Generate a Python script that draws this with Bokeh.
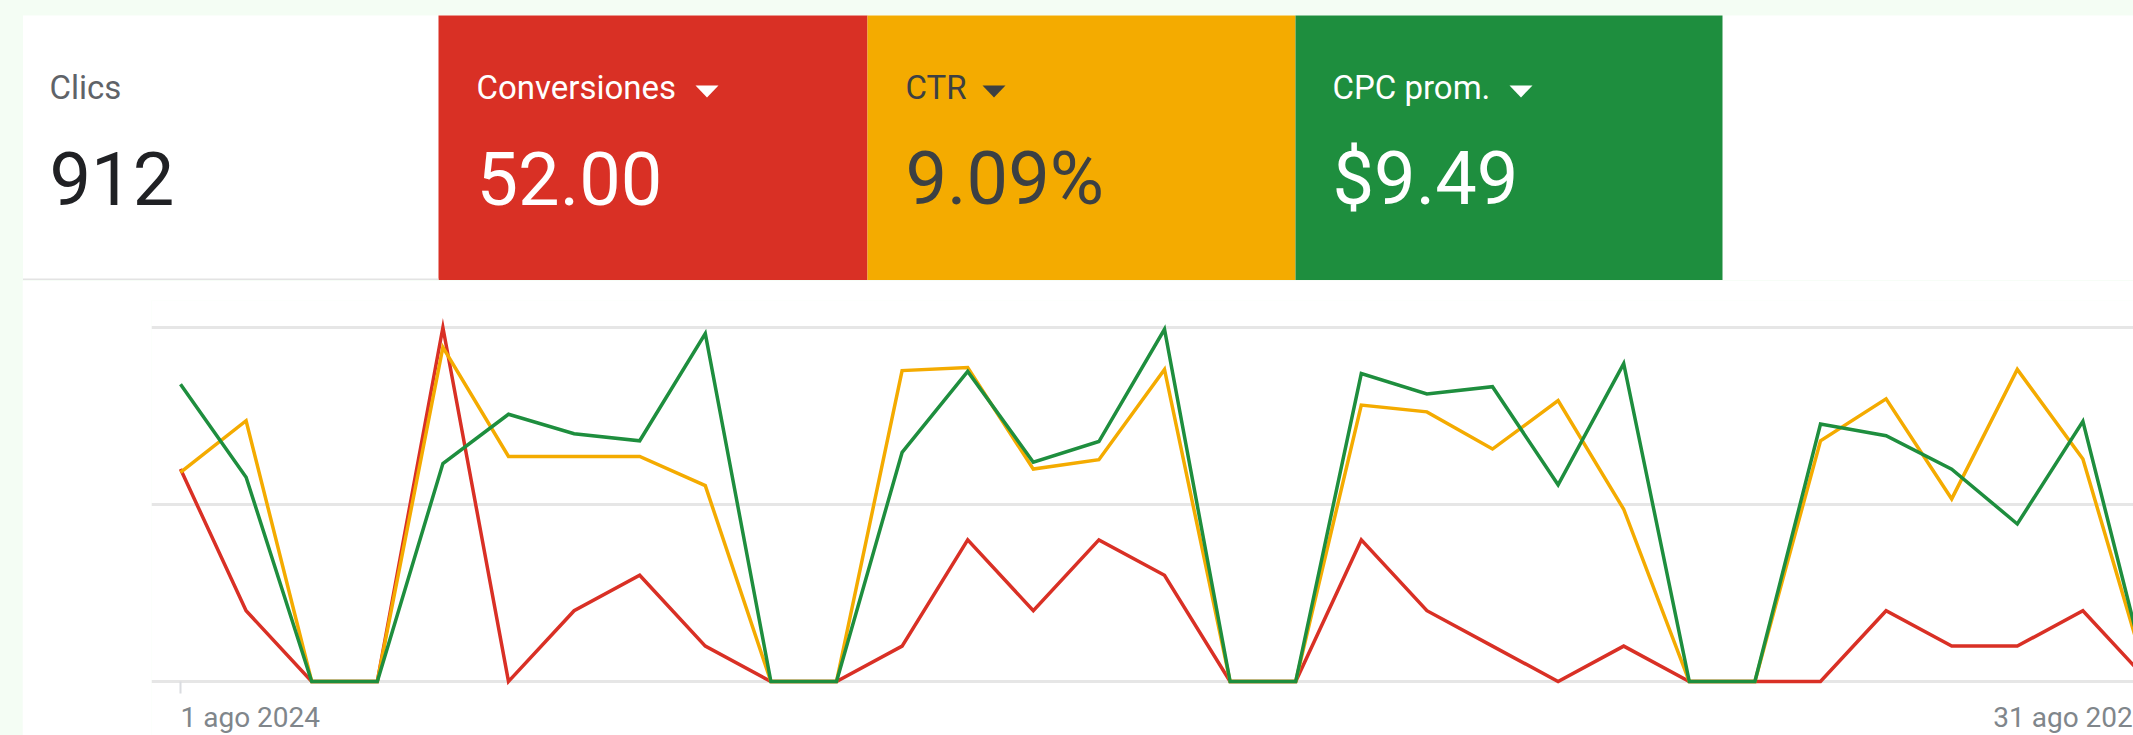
from bokeh.plotting import figure
from bokeh.models import Range1d, FixedTicker, Spacer, Grid, LinearAxis
from bokeh.layouts import column, row
from bokeh.core.properties import value
from bokeh.embed import file_html
from bokeh.resources import INLINE

# ---------------- data ----------------
dias = list(range(1, 32))  # 1..31 ago 2024
conversiones = [6, 2, 0, 0, 10, 0, 2, 3, 1, 0, 0, 1, 4, 2, 4, 3, 0, 0, 4, 2,
                1, 0, 1, 0, 0, 0, 2, 1, 1, 2, 0]
ctr = [7.09, 8.84, 0, 0, 11.33, 7.63, 7.63, 7.63, 6.64, 0, 0, 10.54, 10.64, 7.20,
       7.52, 10.58, 0, 0, 9.37, 9.14, 7.88, 9.52, 5.84, 0, 0, 8.16, 9.58, 6.19,
       10.58, 7.54, 0]
cpc = [11.76, 8.08, 0, 0, 8.62, 10.57, 9.80, 9.52, 13.76, 0, 0, 9.06, 12.26, 8.67,
       9.49, 13.93, 0, 0, 12.18, 11.37, 11.66, 7.78, 12.57, 0, 0, 10.18, 9.72, 8.40,
       6.23, 10.29, 0]
metric_labels = ["Clics", "Conversiones", "CTR", "CPC prom."]
metric_values = ["912", "52.00", "9.09%", "$9.49"]
tick_days = [1, 31]
tick_labels = ["1 ago 2024", "31 ago 2024"]
axis_tops = {"conv": 10, "ctr": 12, "cpc": 14}

# ---------------- style ----------------
W, HH, HC = 2133, 280, 455
MINT = "#f4fdf4"
RED, ORANGE, GREEN = "#d93025", "#f4ab00", "#1e8e3e"
DARK, MID, GRAY = "#202124", "#5f6368", "#80868b"
FONT = value("Roboto")

# ---------------- header (metric tiles) ----------------
head = figure(width=W, height=HH, x_range=Range1d(0, W), y_range=Range1d(HH, 0),
              output_backend="svg", toolbar_location=None, min_border=0,
              x_axis_type=None, y_axis_type=None,
              background_fill_color=MINT, border_fill_color=MINT,
              outline_line_color=None)

tile_left = [22.5, 438, 867, 1295]
tile_right = [438, 867, 1295, 1722]
tile_fill = ["white", RED, ORANGE, GREEN]
head.quad(left=22.5, right=W, top=15, bottom=HH, fill_color="white", line_color=None)
head.quad(left=tile_left[1:], right=tile_right[1:], top=15, bottom=HH,
          fill_color=tile_fill[1:], line_color=None)
head.segment(x0=22.5, y0=279, x1=438, y1=279, line_color="#e3e3e3", line_width=2)

text_x = [49, 476, 905, 1332]
label_colors = [MID, "white", "#3c4043", "white"]
value_colors = [DARK, "white", "#3c4043", "white"]
head.text(x=text_x, y=[87] * 4, text=metric_labels, text_color=label_colors,
          text_font=FONT, text_font_size="33px", text_baseline="alphabetic")
head.text(x=text_x, y=[178] * 4, text=metric_values, text_color=value_colors,
          text_font=FONT, text_font_size="74px", text_baseline="alphabetic")

tri_x = [695, 982, 1509]
head.patches(xs=[[t, t + 23, t + 11.5] for t in tri_x], ys=[[85, 85, 97]] * 3,
             fill_color=["white", "#3c4043", "white"], line_color=None)

# ---------------- line chart ----------------
px_day = 65.6
px_unit = 354 / axis_tops["conv"]
lo = -(735 - 681) / 354
hi = (681 - 300) / 354
chart = figure(width=W - 22, height=HC,
               x_range=Range1d(1 - 29 / px_day, 1 + (W - 180) / px_day),
               y_range=Range1d(axis_tops["conv"] * lo, axis_tops["conv"] * hi),
               output_backend="svg", toolbar_location=None,
               min_border_left=129, min_border_right=0,
               min_border_top=20, min_border_bottom=0,
               x_axis_type=None, y_axis_type=None, outline_line_color=None,
               background_fill_color="white", border_fill_color="white")
chart.extra_y_ranges = {
    "ctr": Range1d(axis_tops["ctr"] * lo, axis_tops["ctr"] * hi),
    "cpc": Range1d(axis_tops["cpc"] * lo, axis_tops["cpc"] * hi),
}
chart.add_layout(Grid(dimension=1, ticker=FixedTicker(ticks=[0, 5, 10]),
                      grid_line_color="#e6e6e6", grid_line_width=3))

ax = LinearAxis(ticker=FixedTicker(ticks=tick_days[:1]), fixed_location=0,
                major_label_text_alpha=0, axis_line_color=None,
                major_tick_line_color="#dadce0", major_tick_line_width=2,
                major_tick_in=0, major_tick_out=12, minor_tick_line_color=None)
chart.add_layout(ax, "below")

chart.line(dias, conversiones, line_color=RED, line_width=3.5, line_join="miter")
chart.line(dias, ctr, y_range_name="ctr", line_color=ORANGE, line_width=3.5, line_join="miter")
chart.line(dias, cpc, y_range_name="cpc", line_color=GREEN, line_width=3.5, line_join="miter")

lab_y = -(716.5 - 681) / px_unit
chart.text(x=tick_days[:1], y=[lab_y], text=tick_labels[:1], text_align="left",
           text_baseline="alphabetic", text_font=FONT, text_font_size="28px",
           text_color=GRAY)
chart.text(x=tick_days[1:], y=[lab_y], text=tick_labels[1:], text_align="right",
           text_baseline="alphabetic", text_font=FONT, text_font_size="28px",
           text_color=GRAY)

layout = column(head, row(Spacer(width=22, height=HC, styles={"background-color": MINT}), chart),
                styles={"background-color": MINT})

open("out.html", "w").write(file_html(layout, INLINE))
